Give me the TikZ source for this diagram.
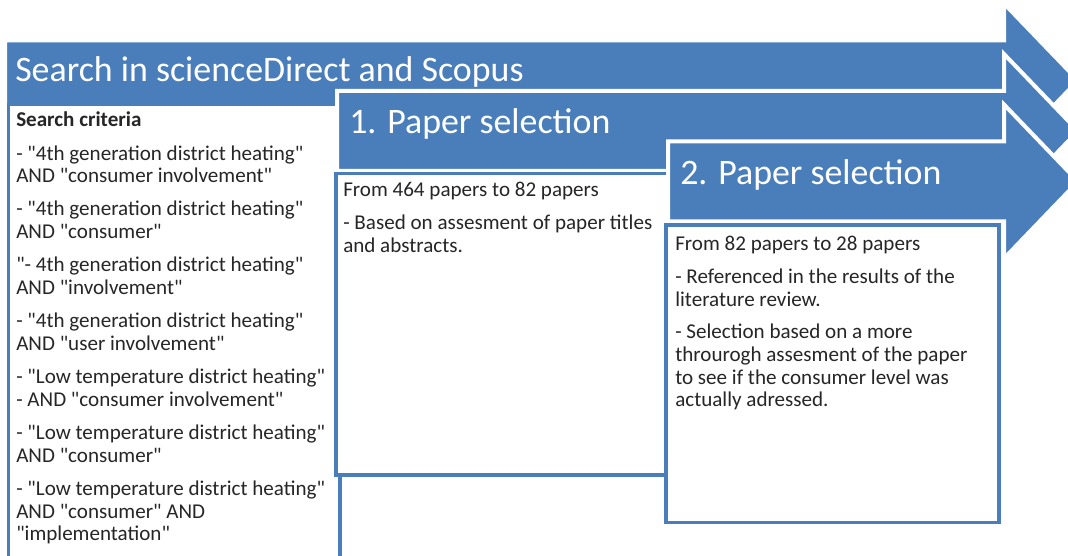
\documentclass[tikz,border=0pt]{standalone}
\usepackage{fontspec}
\setmainfont{Carlito}[Ligatures=TeXOff]
\definecolor{arrowblue}{RGB}{74,126,187}
\definecolor{boxblue}{RGB}{74,126,187}
\definecolor{txtgray}{RGB}{38,38,38}
\newcommand{\bodysize}{\fontsize{15.8}{17.1}\selectfont}
\newcommand{\titlesize}{\fontsize{26.9}{30}\selectfont}
\newcommand{\boxpar}[2]{\parbox[t]{#1}{\bodysize\raggedright\setlength{\parskip}{7.2pt}\setlength{\parindent}{0pt}#2}}
\tikzset{
  procarrow/.style={fill=arrowblue, draw=white, line width=3pt, line join=miter},
  textbox/.style={fill=white, draw=boxblue, line width=2.6pt},
  steptitle/.style={anchor=base west, inner sep=0pt, text=white, font=\titlesize},
  boxtext/.style={anchor=base west, inner sep=0pt, text=txtgray},
}
\begin{document}
\begin{tikzpicture}[x=0.75pt,y=-0.75pt]
\useasboundingbox (0,0) rectangle (1068,556);
\clip (0,0) rectangle (1068,556);
% arrow 1
\filldraw[procarrow] (5,40.5) -- (1004,40.5) -- (1004,3.5) -- (1078,80.5) -- (1004,157.5) -- (1004,120.5) -- (5,120.5) -- cycle;
% box 1
\filldraw[textbox] (8.7,104.5) rectangle (340,700);
% arrow 2
\filldraw[procarrow] (337,91) -- (1004,91) -- (1004,54) -- (1078,131) -- (1004,208) -- (1004,171) -- (337,171) -- cycle;
% box 2
\filldraw[textbox] (336,173.3) rectangle (669,475);
% arrow 3
\filldraw[procarrow] (668,141.5) -- (1004,141.5) -- (1004,104.5) -- (1078,181.5) -- (1004,258.5) -- (1004,221.5) -- (668,221.5) -- cycle;
% box 3
\filldraw[textbox] (666,225) rectangle (999,522.7);
% titles
\node[steptitle] (title1) at (15,82) {Search in scienceDirect and Scopus};
\node[steptitle] (title2) at (349,133.3) {1. Paper selection};
\node[steptitle] (title3) at (680,185) {2. Paper selection};
% box texts
\node[boxtext] (text1) at (16,127) {\boxpar{300pt}{\setlength{\parskip}{7.7pt}%
\textbf{Search criteria}\par
- "4th generation district heating"\\AND "consumer involvement"\par
- "4th generation district heating"\\AND "consumer"\par
"- 4th generation district heating"\\AND "involvement"\par
- "4th generation district heating"\\AND "user involvement"\par
- "Low temperature district heating"\\- AND "consumer involvement"\par
- "Low temperature district heating"\\AND "consumer"\par
- "Low temperature district heating"\\AND "consumer" AND\\"implementation"}};
\node[boxtext] (text2) at (343,197) {\boxpar{300pt}{%
From 464 papers to 82 papers\par
- Based on assesment of paper titles\\and abstracts.}};
\node[boxtext] (text3) at (675,251) {\boxpar{300pt}{%
From 82 papers to 28 papers\par
- Referenced in the results of the\\literature review.\par
- Selection based on a more\\throurogh assesment of the paper\\to see if the consumer level was\\actually adressed.}};
\end{tikzpicture}
\end{document}
